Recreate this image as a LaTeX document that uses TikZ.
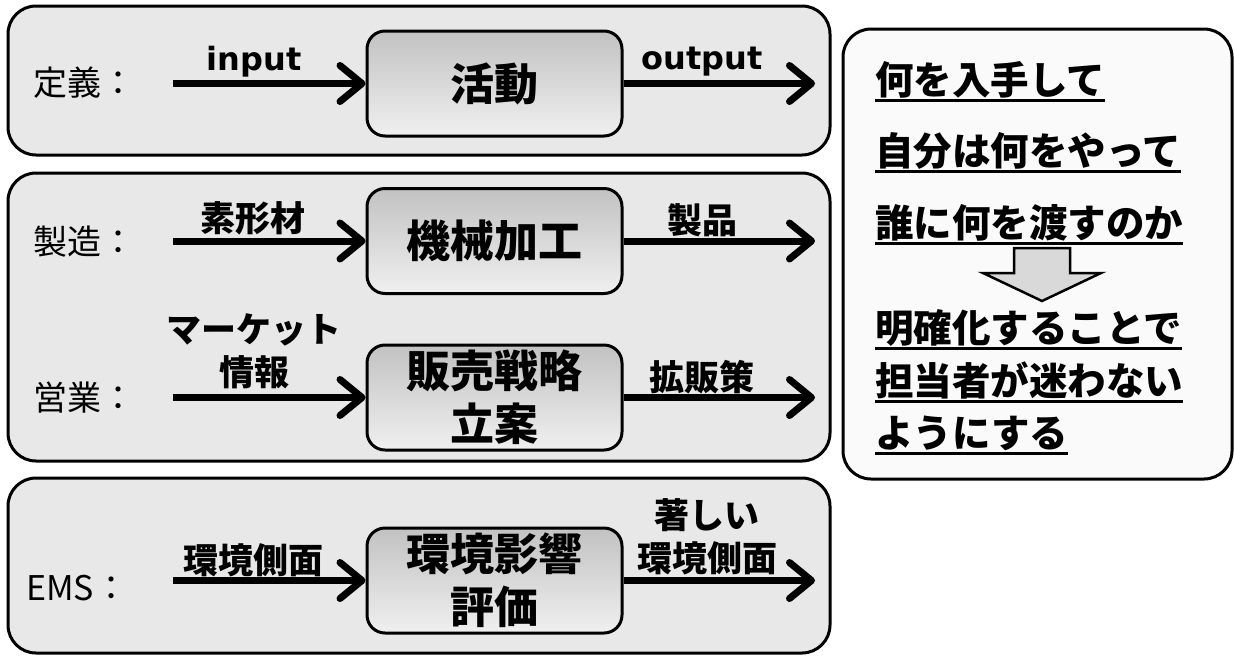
\documentclass[tikz,border=0pt]{standalone}
\usepackage{fontspec}
\newfontfamily\jp{Noto Sans CJK JP}
\newfontfamily\lat{DejaVu Sans}
\usetikzlibrary{arrows.meta}
\begin{document}
\begin{tikzpicture}[x=1pt,y=-1pt,
  outerbox/.style={draw=black, line width=3pt, rounded corners=28pt, fill=gray!18, inner sep=0pt},
  notebox/.style={draw=black, line width=3pt, rounded corners=28pt, fill=gray!4, inner sep=0pt},
  inbox/.style={draw=black, line width=3pt, rounded corners=18pt, top color=gray!48, bottom color=gray!12,
    minimum width=255pt, minimum height=105pt, inner sep=0pt, align=center,
    font=\jp\bfseries\fontsize{44}{53}\selectfont},
  flow/.style={line width=7pt, -{Straight Barb[length=22pt,width=36pt,round]}},
  lab/.style={font=\jp\bfseries\fontsize{35}{43}\selectfont, inner sep=0pt, align=center},
  latlab/.style={font=\lat\bfseries\fontsize{32}{38}\selectfont, inner sep=0pt},
  hdr/.style={font=\jp\fontsize{34}{40}\selectfont, anchor=west, inner sep=0pt},
  note/.style={font=\jp\bfseries\fontsize{38.5}{46}\selectfont, anchor=base west, inner sep=0pt},
  ul/.style={line width=3pt}
]
\useasboundingbox (0,0) rectangle (1234,657);

% outer panels
\node[outerbox, minimum width=822pt, minimum height=149pt] (g1) at (419,80.5) {};
\node[outerbox, minimum width=822pt, minimum height=288pt] (g2) at (419,317) {};
\node[outerbox, minimum width=822pt, minimum height=175pt] (g3) at (419,565.5) {};
\node[notebox, minimum width=389pt, minimum height=450pt] (nb) at (1037.5,254) {};

% row labels
\node[hdr] (h1) at (33,83) {定義：};
\node[hdr] (h2) at (33,242) {製造：};
\node[hdr] (h3) at (33,398) {営業：};
\node[hdr] (h4) at (26,588) {EMS：};

% activity boxes
\node[inbox] (a1) at (494.5,83.5) {活動};
\node[inbox] (a2) at (494.5,241) {機械加工};
\node[inbox] (a3) at (494.5,397.5) {販売戦略\\立案};
\node[inbox] (a4) at (494.5,580.5) {環境影響\\評価};

% arrow ends
\coordinate (i1) at (173,83.5);
\coordinate (o1) at (815,83.5);
\coordinate (i2) at (173,241);
\coordinate (o2) at (815,241);
\coordinate (i3) at (173,397.5);
\coordinate (o3) at (815,397.5);
\coordinate (i4) at (173,580.5);
\coordinate (o4) at (815,580.5);

\draw[flow] (i1) -- (a1.west);
\draw[flow] (a1.east) -- (o1);
\draw[flow] (i2) -- (a2.west);
\draw[flow] (a2.east) -- (o2);
\draw[flow] (i3) -- (a3.west);
\draw[flow] (a3.east) -- (o3);
\draw[flow] (i4) -- (a4.west);
\draw[flow] (a4.east) -- (o4);

% arrow labels
\node[latlab] (l1in) at (254,62) {input};
\node[latlab] (l1out) at (702,62) {output};
\node[lab] (l2in) at (253,218) {素形材};
\node[lab] (l2out) at (702,220) {製品};
\node[lab] (l3in) at (254,351) {マーケット\\情報};
\node[lab] (l3out) at (702,377) {拡販策};
\node[lab] (l4in) at (253,560) {環境側面};
\node[lab] (l4out) at (707,537) {著しい\\環境側面};

% note panel
\node[note] (n1) at (875,94) {何を入手して};
\node[note] (n2) at (875,165) {自分は何をやって};
\node[note] (n3) at (875,237) {誰に何を渡すのか};
\node[note] (n4) at (875,342) {明確化することで};
\node[note] (n5) at (875,395) {担当者が迷わない};
\node[note] (n6) at (875,447) {ようにする};
\foreach \n in {n1,n2,n3,n4,n5,n6}
  \draw[ul] ([yshift=-6pt]\n.base west) -- ([yshift=-6pt]\n.base east);

% down arrow
\draw[fill=gray!30, line width=2.5pt, line join=miter]
  (1014,248) -- (1070,248) -- (1070,273) -- (1101,273) -- (1042,301) -- (983,273) -- (1014,273) -- cycle;
\end{tikzpicture}
\end{document}
